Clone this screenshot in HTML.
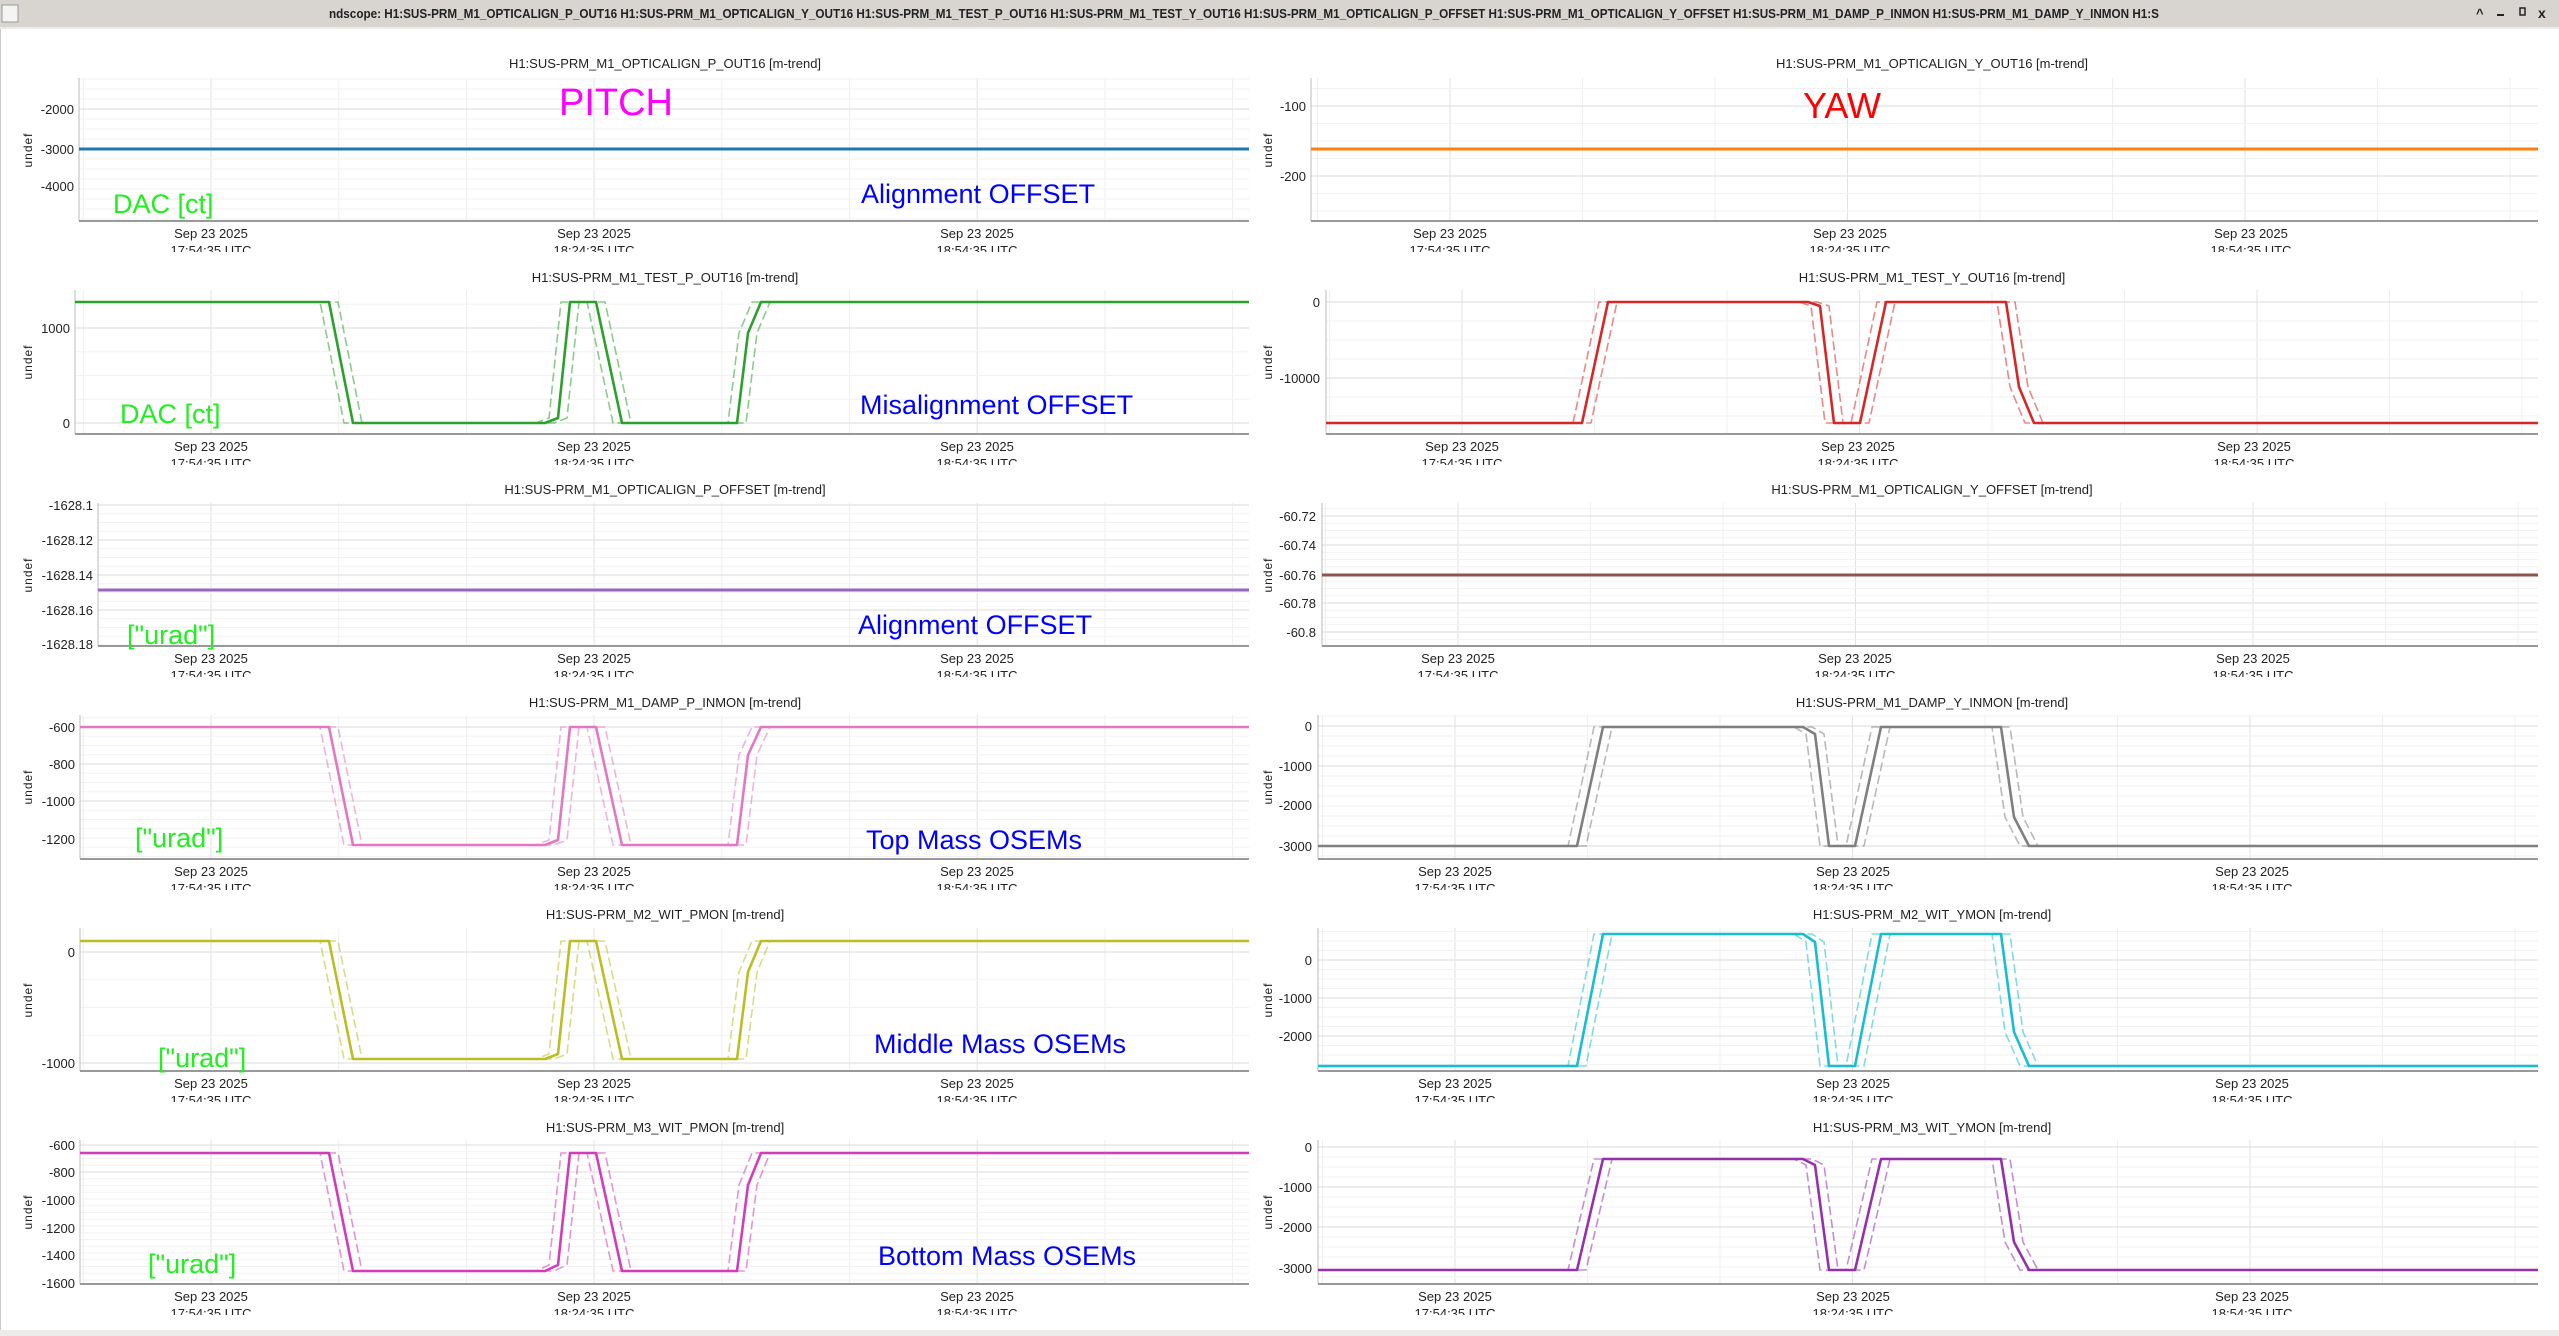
<!DOCTYPE html>
<html><head><meta charset="utf-8">
<style>
html,body{margin:0;padding:0;background:#fff;}
svg{display:block;}
text{font-family:"Liberation Sans",sans-serif;}
.t{font-size:13px;fill:#222;text-anchor:middle;}
.yl{font-size:13px;fill:#222;text-anchor:end;}
.xl{font-size:13px;fill:#222;text-anchor:middle;}
.ud{font-size:12px;fill:#222;letter-spacing:1px;text-anchor:middle;}
.g{font-size:27px;fill:#22ee22;}
.b{font-size:27px;fill:#0000ff;}
</style></head>
<body>
<svg id="s" width="2559" height="1336" viewBox="0 0 2559 1336" xmlns="http://www.w3.org/2000/svg">
<rect x="0" y="0" width="2559" height="1336" fill="#fff"/>
<rect x="0" y="0" width="2559" height="27" fill="#d8d5d0"/>
<rect x="0" y="27" width="2559" height="2" fill="#ecebe8"/>
<rect x="0" y="1330" width="2559" height="6" fill="#ecebe8"/>
<rect x="0" y="29" width="1" height="1301" fill="#ccc"/>
<rect x="2" y="5" width="16" height="17" fill="#f4f4f4" stroke="#999"/>
<text x="329" y="18" textLength="1830" lengthAdjust="spacingAndGlyphs" style="font-size:13px;font-weight:bold;fill:#222">ndscope: H1:SUS-PRM_M1_OPTICALIGN_P_OUT16 H1:SUS-PRM_M1_OPTICALIGN_Y_OUT16 H1:SUS-PRM_M1_TEST_P_OUT16 H1:SUS-PRM_M1_TEST_Y_OUT16 H1:SUS-PRM_M1_OPTICALIGN_P_OFFSET H1:SUS-PRM_M1_OPTICALIGN_Y_OFFSET H1:SUS-PRM_M1_DAMP_P_INMON H1:SUS-PRM_M1_DAMP_Y_INMON H1:S</text>
<text x="2476" y="18" style="font-size:13px;font-weight:bold;fill:#222">^</text>
<rect x="2497" y="14" width="7" height="2" fill="#222"/>
<rect x="2520" y="8" width="5" height="7" fill="none" stroke="#222" stroke-width="1.5"/>
<text x="2538" y="18" style="font-size:14px;font-weight:bold;fill:#222">x</text>

<g id="grid"></g>
<g id="data"></g>

<text class="t" x="665" y="68">H1:SUS-PRM_M1_OPTICALIGN_P_OUT16 [m-trend]</text>
<text class="t" x="1932" y="68">H1:SUS-PRM_M1_OPTICALIGN_Y_OUT16 [m-trend]</text>
<text class="t" x="665" y="282">H1:SUS-PRM_M1_TEST_P_OUT16 [m-trend]</text>
<text class="t" x="1932" y="282">H1:SUS-PRM_M1_TEST_Y_OUT16 [m-trend]</text>
<text class="t" x="665" y="494">H1:SUS-PRM_M1_OPTICALIGN_P_OFFSET [m-trend]</text>
<text class="t" x="1932" y="494">H1:SUS-PRM_M1_OPTICALIGN_Y_OFFSET [m-trend]</text>
<text class="t" x="665" y="707">H1:SUS-PRM_M1_DAMP_P_INMON [m-trend]</text>
<text class="t" x="1932" y="707">H1:SUS-PRM_M1_DAMP_Y_INMON [m-trend]</text>
<text class="t" x="665" y="919">H1:SUS-PRM_M2_WIT_PMON [m-trend]</text>
<text class="t" x="1932" y="919">H1:SUS-PRM_M2_WIT_YMON [m-trend]</text>
<text class="t" x="665" y="1132">H1:SUS-PRM_M3_WIT_PMON [m-trend]</text>
<text class="t" x="1932" y="1132">H1:SUS-PRM_M3_WIT_YMON [m-trend]</text>

<text class="yl" x="74" y="114">-2000</text><text class="yl" x="74" y="154">-3000</text><text class="yl" x="74" y="191">-4000</text>
<text class="yl" x="1306" y="111">-100</text><text class="yl" x="1306" y="181">-200</text>
<text class="yl" x="70" y="333">1000</text><text class="yl" x="70" y="428">0</text>
<text class="yl" x="1320" y="307">0</text><text class="yl" x="1320" y="383">-10000</text>
<text class="yl" x="93" y="510">-1628.1</text><text class="yl" x="93" y="545">-1628.12</text><text class="yl" x="93" y="580">-1628.14</text><text class="yl" x="93" y="615">-1628.16</text><text class="yl" x="93" y="649">-1628.18</text>
<text class="yl" x="1316" y="521">-60.72</text><text class="yl" x="1316" y="550">-60.74</text><text class="yl" x="1316" y="580">-60.76</text><text class="yl" x="1316" y="608">-60.78</text><text class="yl" x="1316" y="637">-60.8</text>
<text class="yl" x="75" y="732">-600</text><text class="yl" x="75" y="769">-800</text><text class="yl" x="75" y="806">-1000</text><text class="yl" x="75" y="844">-1200</text>
<text class="yl" x="1312" y="731">0</text><text class="yl" x="1312" y="771">-1000</text><text class="yl" x="1312" y="810">-2000</text><text class="yl" x="1312" y="851">-3000</text>
<text class="yl" x="75" y="957">0</text><text class="yl" x="75" y="1068">-1000</text>
<text class="yl" x="1312" y="965">0</text><text class="yl" x="1312" y="1003">-1000</text><text class="yl" x="1312" y="1041">-2000</text>
<text class="yl" x="75" y="1150">-600</text><text class="yl" x="75" y="1177">-800</text><text class="yl" x="75" y="1205">-1000</text><text class="yl" x="75" y="1233">-1200</text><text class="yl" x="75" y="1260">-1400</text><text class="yl" x="75" y="1288">-1600</text>
<text class="yl" x="1312" y="1152">0</text><text class="yl" x="1312" y="1192">-1000</text><text class="yl" x="1312" y="1232">-2000</text><text class="yl" x="1312" y="1273">-3000</text>

<text class="ud" transform="translate(32,150) rotate(-90)">undef</text>
<text class="ud" transform="translate(1272,150) rotate(-90)">undef</text>
<text class="ud" transform="translate(32,362) rotate(-90)">undef</text>
<text class="ud" transform="translate(1272,362) rotate(-90)">undef</text>
<text class="ud" transform="translate(32,575) rotate(-90)">undef</text>
<text class="ud" transform="translate(1272,575) rotate(-90)">undef</text>
<text class="ud" transform="translate(32,787) rotate(-90)">undef</text>
<text class="ud" transform="translate(1272,787) rotate(-90)">undef</text>
<text class="ud" transform="translate(32,1000) rotate(-90)">undef</text>
<text class="ud" transform="translate(1272,1000) rotate(-90)">undef</text>
<text class="ud" transform="translate(32,1212) rotate(-90)">undef</text>
<text class="ud" transform="translate(1272,1212) rotate(-90)">undef</text>

<g id="xt">
<text class="xl" x="211" y="238">Sep 23 2025</text><text class="xl" x="594" y="238">Sep 23 2025</text><text class="xl" x="977" y="238">Sep 23 2025</text>
<text class="xl" x="211" y="255">17:54:35 UTC</text><text class="xl" x="594" y="255">18:24:35 UTC</text><text class="xl" x="977" y="255">18:54:35 UTC</text>
<text class="xl" x="1450" y="238">Sep 23 2025</text><text class="xl" x="1850" y="238">Sep 23 2025</text><text class="xl" x="2251" y="238">Sep 23 2025</text>
<text class="xl" x="1450" y="255">17:54:35 UTC</text><text class="xl" x="1850" y="255">18:24:35 UTC</text><text class="xl" x="2251" y="255">18:54:35 UTC</text>

<text class="xl" x="211" y="451">Sep 23 2025</text><text class="xl" x="594" y="451">Sep 23 2025</text><text class="xl" x="977" y="451">Sep 23 2025</text>
<text class="xl" x="211" y="468">17:54:35 UTC</text><text class="xl" x="594" y="468">18:24:35 UTC</text><text class="xl" x="977" y="468">18:54:35 UTC</text>
<text class="xl" x="1462" y="451">Sep 23 2025</text><text class="xl" x="1858" y="451">Sep 23 2025</text><text class="xl" x="2254" y="451">Sep 23 2025</text>
<text class="xl" x="1462" y="468">17:54:35 UTC</text><text class="xl" x="1858" y="468">18:24:35 UTC</text><text class="xl" x="2254" y="468">18:54:35 UTC</text>

<text class="xl" x="211" y="663">Sep 23 2025</text><text class="xl" x="594" y="663">Sep 23 2025</text><text class="xl" x="977" y="663">Sep 23 2025</text>
<text class="xl" x="211" y="680">17:54:35 UTC</text><text class="xl" x="594" y="680">18:24:35 UTC</text><text class="xl" x="977" y="680">18:54:35 UTC</text>
<text class="xl" x="1458" y="663">Sep 23 2025</text><text class="xl" x="1855" y="663">Sep 23 2025</text><text class="xl" x="2253" y="663">Sep 23 2025</text>
<text class="xl" x="1458" y="680">17:54:35 UTC</text><text class="xl" x="1855" y="680">18:24:35 UTC</text><text class="xl" x="2253" y="680">18:54:35 UTC</text>

<text class="xl" x="211" y="876">Sep 23 2025</text><text class="xl" x="594" y="876">Sep 23 2025</text><text class="xl" x="977" y="876">Sep 23 2025</text>
<text class="xl" x="211" y="893">17:54:35 UTC</text><text class="xl" x="594" y="893">18:24:35 UTC</text><text class="xl" x="977" y="893">18:54:35 UTC</text>
<text class="xl" x="1455" y="876">Sep 23 2025</text><text class="xl" x="1853" y="876">Sep 23 2025</text><text class="xl" x="2252" y="876">Sep 23 2025</text>
<text class="xl" x="1455" y="893">17:54:35 UTC</text><text class="xl" x="1853" y="893">18:24:35 UTC</text><text class="xl" x="2252" y="893">18:54:35 UTC</text>

<text class="xl" x="211" y="1088">Sep 23 2025</text><text class="xl" x="594" y="1088">Sep 23 2025</text><text class="xl" x="977" y="1088">Sep 23 2025</text>
<text class="xl" x="211" y="1105">17:54:35 UTC</text><text class="xl" x="594" y="1105">18:24:35 UTC</text><text class="xl" x="977" y="1105">18:54:35 UTC</text>
<text class="xl" x="1455" y="1088">Sep 23 2025</text><text class="xl" x="1853" y="1088">Sep 23 2025</text><text class="xl" x="2252" y="1088">Sep 23 2025</text>
<text class="xl" x="1455" y="1105">17:54:35 UTC</text><text class="xl" x="1853" y="1105">18:24:35 UTC</text><text class="xl" x="2252" y="1105">18:54:35 UTC</text>

<text class="xl" x="211" y="1301">Sep 23 2025</text><text class="xl" x="594" y="1301">Sep 23 2025</text><text class="xl" x="977" y="1301">Sep 23 2025</text>
<text class="xl" x="211" y="1318">17:54:35 UTC</text><text class="xl" x="594" y="1318">18:24:35 UTC</text><text class="xl" x="977" y="1318">18:54:35 UTC</text>
<text class="xl" x="1455" y="1301">Sep 23 2025</text><text class="xl" x="1853" y="1301">Sep 23 2025</text><text class="xl" x="2252" y="1301">Sep 23 2025</text>
<text class="xl" x="1455" y="1318">17:54:35 UTC</text><text class="xl" x="1853" y="1318">18:24:35 UTC</text><text class="xl" x="2252" y="1318">18:54:35 UTC</text>
</g>
<rect x="40" y="252" width="2519" height="12" fill="#fff"/>
<rect x="40" y="465" width="2519" height="9" fill="#fff"/>
<rect x="40" y="677" width="2519" height="12" fill="#fff"/>
<rect x="40" y="890" width="2519" height="12" fill="#fff"/>
<rect x="40" y="1102" width="2519" height="12" fill="#fff"/>
<rect x="40" y="1315" width="2519" height="14" fill="#fff"/>

<text x="559" y="115" style="font-size:38px;fill:#ff00ff">PITCH</text>
<text x="1803" y="118" style="font-size:36px;fill:#ff0000">YAW</text>
<text class="g" x="113" y="213">DAC [ct]</text>
<text class="b" x="861" y="203">Alignment OFFSET</text>
<text class="g" x="120" y="423">DAC [ct]</text>
<text class="b" x="860" y="414">Misalignment OFFSET</text>
<text class="g" x="127" y="644">["urad"]</text>
<text class="b" x="858" y="634">Alignment OFFSET</text>
<text class="g" x="135" y="847">["urad"]</text>
<text class="b" x="866" y="849">Top Mass OSEMs</text>
<text class="g" x="158" y="1067">["urad"]</text>
<text class="b" x="874" y="1053">Middle Mass OSEMs</text>
<text class="g" x="148" y="1273">["urad"]</text>
<text class="b" x="878" y="1265">Bottom Mass OSEMs</text>
</svg>
<script>
(function(){
var NS="http://www.w3.org/2000/svg";
var grid=document.getElementById('grid'),data=document.getElementById('data');
function el(p,tag,a){var e=document.createElementNS(NS,tag);for(var k in a)e.setAttribute(k,a[k]);p.appendChild(e);return e;}
function line(p,x1,y1,x2,y2,c,w){el(p,'line',{x1:x1,y1:y1,x2:x2,y2:y2,stroke:c,'stroke-width':w});}
var R=2538;
var panels=[
 {x0:79,x1:1249,t:78,b:221,L:1,ym:[109,149,186]},
 {x0:1311,x1:R,t:78,b:221,L:0,base:1450,ym:[106,176]},
 {x0:75,x1:1249,t:290,b:434,L:1,ym:[328,423]},
 {x0:1326,x1:R,t:290,b:434,L:0,base:1462,ym:[302,378]},
 {x0:98,x1:1249,t:503,b:646,L:1,ym:[505,540,575,610,644]},
 {x0:1322,x1:R,t:503,b:646,L:0,base:1458,ym:[516,545,575,603,632]},
 {x0:80,x1:1249,t:715,b:859,L:1,ym:[727,764,801,839]},
 {x0:1318,x1:R,t:715,b:859,L:0,base:1455,ym:[726,766,805,846]},
 {x0:80,x1:1249,t:928,b:1071,L:1,ym:[952,1063]},
 {x0:1318,x1:R,t:928,b:1071,L:0,base:1455,ym:[960,998,1036]},
 {x0:80,x1:1249,t:1140,b:1284,L:1,ym:[1145,1172,1200,1228,1255,1283]},
 {x0:1318,x1:R,t:1140,b:1284,L:0,base:1455,ym:[1147,1187,1227,1268]}
];
panels.forEach(function(p){
  var base=p.L?211:p.base, sp=p.L?127.7:132.5;
  for(var k=-2;k<12;k++){var x=base+k*sp; if(x<=p.x0+2||x>=p.x1)continue;
    line(grid,x,p.t,x,p.b,(k%3==0)?'#e2e2e2':'#efefef',1);}
  var ym=p.ym, d=ym.length>1?(ym[1]-ym[0]):40;
  for(var y=ym[0]-d*2;y<p.b;y+=d/4){ if(y<=p.t)continue;
    var maj=ym.some(function(v){return Math.abs(v-y)<1;});
    line(grid,p.x0,y,p.x1,y,maj?'#e2e2e2':'#f2f2f2',maj?1.2:1);}
  line(grid,p.x0,p.t,p.x0,p.b,'#bbb',1);
  line(grid,p.x0,p.b,p.x1,p.b,'#999',2);
});
function poly(xs,ys,c,w,dash,op){
  var s=xs.map(function(x,i){return x+','+ys[i];}).join(' ');
  var a={points:s,fill:'none',stroke:c,'stroke-width':w,'stroke-linejoin':'round'};
  if(dash)a['stroke-dasharray']=dash; if(op)a['stroke-opacity']=op;
  el(data,'polyline',a);
}
function flat(p,y,c){poly([p.x0,p.x1],[y,y],c,3);}
flat(panels[0],149,'#1f77b4');
flat(panels[1],149,'#ff7f0e');
flat(panels[4],590,'#9467bd');
flat(panels[5],575,'#8c564b');
function leftStep(p,H,L,L2,M,c){
  var xs=[p.x0,329,353,545,558,570,596,622,737,748,761,p.x1];
  var ys=[H,H,L,L,L2,H,H,L,L,M,H,H];
  [-9,9].forEach(function(s){poly(xs.map(function(x,i){return (i==0||i==xs.length-1)?x:x+s;}),ys,c,1.6,'9,4',0.55);});
  poly(xs,ys,c,2.6);
}
function rightStep(p,H,L,H2,M,c,dx){
  dx=dx||0;
  var xs=[p.x0,1577,1603,1803,1815,1829,1855,1881,2001,2014,2029,p.x1].map(function(x,i){return (i==0||i==11)?x:x+dx;});
  var ys=[L,L,H,H,H2,L,L,H,H,M,L,L];
  [-9,9].forEach(function(s){poly(xs.map(function(x,i){return (i==0||i==xs.length-1)?x:x+s;}),ys,c,1.6,'9,4',0.55);});
  poly(xs,ys,c,2.6);
}
leftStep(panels[2],302,423,418,333,'#2ca02c');
rightStep(panels[3],302,423,306,387,'#d62728',5);
leftStep(panels[6],727,845,840,755,'#e377c2');
rightStep(panels[7],727,846,734,817,'#7f7f7f');
leftStep(panels[8],941,1059,1054,972,'#bcbd22');
rightStep(panels[9],934,1066,942,1032,'#17becf');
leftStep(panels[10],1153,1271,1265,1185,'#d23cb8');
rightStep(panels[11],1159,1270,1165,1242,'#9530ad');
})();
</script>
</body></html>
